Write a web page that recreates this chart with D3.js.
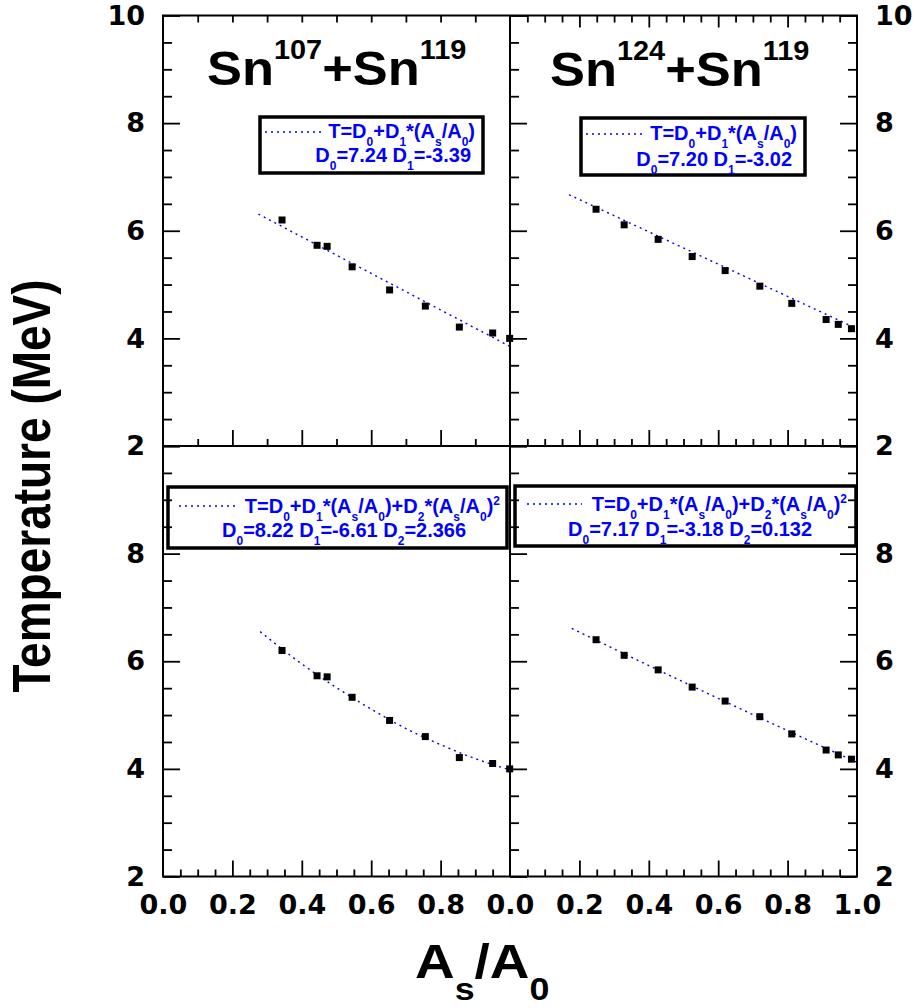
<!DOCTYPE html>
<html><head><meta charset="utf-8">
<script src="https://cdn.jsdelivr.net/npm/d3@7"></script>
<style>body{margin:0;background:#fff} svg{display:block}</style>
</head><body>
<script>
// ---------- data ----------
const xs107 = [0.343, 0.444, 0.473, 0.545, 0.653, 0.756, 0.854, 0.950, 0.999];
const T107  = [6.20, 5.73, 5.71, 5.33, 4.90, 4.60, 4.21, 4.10, 4.00];
const xs124 = [0.248, 0.329, 0.427, 0.525, 0.620, 0.720, 0.812, 0.911, 0.946, 0.984];
const T124  = [6.40, 6.11, 5.84, 5.52, 5.26, 4.97, 4.65, 4.35, 4.26, 4.18];

// fit curves
const linFit107X  = [0.275, 1.0];
const linFit107T  = [6.31, 3.85];
const linFit124X  = [0.17, 1.0];
const linFit124T  = [6.67, 4.18];
const quadFit107X = [0.28, 0.4, 0.5, 0.6, 0.7, 0.8, 0.9, 1.0];
const quadFit107T = [6.55, 5.95, 5.51, 5.11, 4.75, 4.45, 4.19, 3.98];
const quadFit124X = [0.178, 0.4, 0.6, 0.8, 1.0];
const quadFit124T = [6.61, 5.92, 5.31, 4.71, 4.12];

const yTicksTop    = [2, 4, 6, 8, 10];
const yTicksBottom = [2, 4, 6, 8];
const xTicksLeft   = [0.0, 0.2, 0.4, 0.6, 0.8];
const xTicksRight  = [0.0, 0.2, 0.4, 0.6, 0.8, 1.0];

const title107 = [["Sn",""],["107","sup"],["+Sn",""],["119","sup"]];
const title124 = [["Sn",""],["124","sup"],["+Sn",""],["119","sup"]];
const linEq  = [["T=D",""],["0","sub"],["+D",""],["1","sub"],["*(A",""],["s","sub"],["/A",""],["0","sub"],[")",""]];
const quadEq = [["T=D",""],["0","sub"],["+D",""],["1","sub"],["*(A",""],["s","sub"],["/A",""],["0","sub"],[")+D",""],["2","sub"],["*(A",""],["s","sub"],["/A",""],["0","sub"],[")",""],["2","sup"]];
const coef107lin  = [["D",""],["0","sub"],["=7.24 D",""],["1","sub"],["=-3.39",""]];
const coef124lin  = [["D",""],["0","sub"],["=7.20 D",""],["1","sub"],["=-3.02",""]];
const coef107quad = [["D",""],["0","sub"],["=8.22 D",""],["1","sub"],["=-6.61 D",""],["2","sub"],["=2.366",""]];
const coef124quad = [["D",""],["0","sub"],["=7.17 D",""],["1","sub"],["=-3.18 D",""],["2","sub"],["=0.132",""]];

// ---------- layout ----------
const W = 917, H = 1008;
const L = 163, M = 510, R = 857, TOP = 15.5, MIDY = 446, BOT = 876.5;
const BLUE = "#0000ff";
const svg = d3.select("body").append("svg").attr("width", W).attr("height", H);

function rich(parent, x, y, anchor, parts, size, subSize, shift, family) {
  const t = parent.append("text").attr("x", x).attr("y", y)
    .attr("text-anchor", anchor).attr("font-family", family)
    .attr("font-weight", "bold").attr("font-size", size);
  let cur = 0;
  parts.forEach(([s, k]) => {
    const target = k === "sub" ? shift : (k === "sup" ? -shift : 0);
    t.append("tspan").attr("dy", target - cur)
      .attr("font-size", k ? subSize : size).text(s);
    cur = target;
  });
  return t;
}

const panels = [
  {x0: L, x1: M, y0: TOP, y1: MIDY, xs: xs107, ts: T107, fx: linFit107X, ft: linFit107T,
   topStep: 0.1, bottomStep: 0.1, topLong: false, leftSide: true, rightSide: false,
   legend: {rx: 260, ry: 117, rw: 223, rh: 56, lx0: 265, lx1: 322, ly: 132,
            l1: linEq, l1x: 475, l1y: 138, l1a: "end", l2: coef107lin, l2x: 471, l2y: 162, l2a: "end"},
   title: title107, tx: 207, ty: 85},
  {x0: M, x1: R, y0: TOP, y1: MIDY, xs: xs124, ts: T124, fx: linFit124X, ft: linFit124T,
   topStep: 0.05, bottomStep: 0.05, topLong: true, leftSide: true, rightSide: true,
   legend: {rx: 581, ry: 118, rw: 224, rh: 57, lx0: 586, lx1: 643, ly: 134,
            l1: linEq, l1x: 797, l1y: 140, l1a: "end", l2: coef124lin, l2x: 792, l2y: 166, l2a: "end"},
   title: title124, tx: 550, ty: 86},
  {x0: L, x1: M, y0: MIDY, y1: BOT, xs: xs107, ts: T107, fx: quadFit107X, ft: quadFit107T,
   topStep: null, bottomStep: 0.05, topLong: false, leftSide: true, rightSide: false,
   legend: {rx: 168, ry: 487, rw: 339, rh: 61, lx0: 179, lx1: 236, ly: 506,
            l1: quadEq, l1x: 500, l1y: 513, l1a: "end", l2: coef107quad, l2x: 222, l2y: 537, l2a: "start"}},
  {x0: M, x1: R, y0: MIDY, y1: BOT, xs: xs124, ts: T124, fx: quadFit124X, ft: quadFit124T,
   topStep: null, bottomStep: 0.05, topLong: false, leftSide: true, rightSide: true,
   legend: {rx: 515, ry: 486, rw: 341, rh: 60, lx0: 527, lx1: 582, ly: 504,
            l1: quadEq, l1x: 847, l1y: 511, l1a: "end", l2: coef124quad, l2x: 568, l2y: 536, l2a: "start"}}
];

const gLegend = svg.append("g"), gData = svg.append("g"), gFrame = svg.append("g");

panels.forEach(p => {
  p.x = d3.scaleLinear().domain([0, 1]).range([p.x0, p.x1]);
  p.y = d3.scaleLinear().domain([2, 10]).range([p.y1, p.y0]);

  // legend
  const lg = p.legend;
  gLegend.append("rect").attr("x", lg.rx).attr("y", lg.ry).attr("width", lg.rw).attr("height", lg.rh)
    .attr("fill", "#fff").attr("stroke", "#000").attr("stroke-width", 3.5);
  gLegend.append("line").attr("x1", lg.lx0).attr("x2", lg.lx1).attr("y1", lg.ly).attr("y2", lg.ly)
    .attr("stroke", BLUE).attr("stroke-width", 1.4).attr("stroke-dasharray", "2,4");
  rich(gLegend, lg.l1x, lg.l1y, lg.l1a, lg.l1, 20, 12, 8, "Liberation Sans, Arial, sans-serif").attr("fill", BLUE);
  rich(gLegend, lg.l2x, lg.l2y, lg.l2a, lg.l2, 20, 12, 8, "Liberation Sans, Arial, sans-serif").attr("fill", BLUE);

  // title
  if (p.title) {
    const tg = gLegend.append("g").attr("transform", `translate(${p.tx},${p.ty}) scale(1.07,1)`);
    rich(tg, 0, 0, "start", p.title, 49, 27, 26, "Liberation Sans, Arial, sans-serif").attr("fill", "#000");
  }

  // fit curve
  const fit = p.fx.map((v, i) => [v, p.ft[i]]);
  gData.append("path").datum(fit)
    .attr("d", d3.line().x(d => p.x(d[0])).y(d => p.y(d[1])).curve(d3.curveMonotoneX))
    .attr("fill", "none").attr("stroke", BLUE).attr("stroke-width", 1.4).attr("stroke-dasharray", "2,4");
});

// frame
gFrame.append("rect").attr("x", L).attr("y", TOP).attr("width", R - L).attr("height", BOT - TOP)
  .attr("fill", "none").attr("stroke", "#000").attr("stroke-width", 2);
gFrame.append("line").attr("x1", M).attr("x2", M).attr("y1", TOP).attr("y2", BOT).attr("stroke", "#000").attr("stroke-width", 2);
gFrame.append("line").attr("x1", L).attr("x2", R).attr("y1", MIDY).attr("y2", MIDY).attr("stroke", "#000").attr("stroke-width", 2);

function tickAxis(axis, tx, ty) {
  const g = gFrame.append("g").attr("transform", `translate(${tx},${ty})`).call(axis);
  g.select(".domain").remove();
  g.selectAll("line").attr("stroke", "#000").attr("stroke-width", 1.8);
  g.selectAll("text").remove();
}
const near = (v, s) => Math.abs(v / s - Math.round(v / s)) < 1e-6;

panels.forEach(p => {
  const yMinor = d3.range(2, 10.001, 0.5).filter(v => !near(v, 2));
  const yMajor = [2, 4, 6, 8, 10];
  if (p.leftSide) {
    tickAxis(d3.axisRight(p.y).tickValues(yMinor).tickSize(9).tickFormat(""), p.x0, 0);
    tickAxis(d3.axisRight(p.y).tickValues(yMajor).tickSize(17).tickFormat(""), p.x0, 0);
  }
  if (p.rightSide) {
    tickAxis(d3.axisLeft(p.y).tickValues(yMinor).tickSize(9).tickFormat(""), p.x1, 0);
    tickAxis(d3.axisLeft(p.y).tickValues(yMajor).tickSize(17).tickFormat(""), p.x1, 0);
  }
  const xMajor = [0.2, 0.4, 0.6, 0.8];
  // bottom ticks
  const bMinor = d3.range(p.bottomStep, 0.9999, p.bottomStep).filter(v => !near(v, 0.2));
  tickAxis(d3.axisTop(p.x).tickValues(bMinor).tickSize(7).tickFormat(""), 0, p.y1);
  tickAxis(d3.axisTop(p.x).tickValues(xMajor).tickSize(16).tickFormat(""), 0, p.y1);
  // top ticks
  if (p.topStep) {
    if (p.topLong) {
      const tMinor = d3.range(p.topStep, 0.9999, p.topStep).filter(v => !near(v, 0.2));
      tickAxis(d3.axisBottom(p.x).tickValues(tMinor).tickSize(7).tickFormat(""), 0, p.y0);
      tickAxis(d3.axisBottom(p.x).tickValues(xMajor).tickSize(12).tickFormat(""), 0, p.y0);
    } else {
      const tAll = d3.range(p.topStep, 0.9999, p.topStep);
      tickAxis(d3.axisBottom(p.x).tickValues(tAll).tickSize(7).tickFormat(""), 0, p.y0);
    }
  }
});

// data markers
panels.forEach(p => {
  gData.raise();
  gFrame.raise();
});
const gMarks = svg.append("g");
panels.forEach(p => {
  gMarks.selectAll(null).data(p.xs.map((v, i) => [v, p.ts[i]])).enter().append("rect")
    .attr("x", d => p.x(d[0]) - 3.5).attr("y", d => p.y(d[1]) - 3.5)
    .attr("width", 7).attr("height", 7).attr("fill", "#000");
});

// tick labels
function labelAxis(axis, tx, ty) {
  const g = svg.append("g").attr("transform", `translate(${tx},${ty})`).call(axis);
  g.select(".domain").remove();
  g.selectAll("line").remove();
  g.selectAll("text").attr("font-family", "DejaVu Sans, sans-serif").attr("font-weight", "bold")
    .attr("font-size", 27).attr("fill", "#000");
  return g;
}
const fy = d3.format("d"), fx = d3.format(".1f");
labelAxis(d3.axisLeft(panels[0].y).tickValues(yTicksTop).tickSize(0).tickPadding(18).tickFormat(fy), L, 0);
labelAxis(d3.axisLeft(panels[2].y).tickValues(yTicksBottom).tickSize(0).tickPadding(18).tickFormat(fy), L, 0);
labelAxis(d3.axisRight(panels[1].y).tickValues(yTicksTop).tickSize(0).tickPadding(18).tickFormat(fy), R, 0);
labelAxis(d3.axisRight(panels[3].y).tickValues(yTicksBottom).tickSize(0).tickPadding(18).tickFormat(fy), R, 0);
labelAxis(d3.axisBottom(panels[2].x).tickValues(xTicksLeft).tickSize(0).tickPadding(18).tickFormat(fx), 0, BOT);
labelAxis(d3.axisBottom(panels[3].x).tickValues(xTicksRight).tickSize(0).tickPadding(18).tickFormat(fx), 0, BOT);

// axis titles
svg.append("text").attr("transform", "translate(50,486) scale(1.15,1) rotate(-90)")
  .attr("text-anchor", "middle").attr("font-family", "Liberation Sans, Arial, sans-serif")
  .attr("font-weight", "bold").attr("font-size", 46).attr("fill", "#000")
  .text("Temperature (MeV)");
const xt = svg.append("g").attr("transform", "translate(415,978) scale(1.12,1)");
rich(xt, 0, 0, "start", [["A",""],["s","sub"],["/A",""],["0","sub"]], 49, 32, 22, "Liberation Sans, Arial, sans-serif").attr("fill", "#000");
</script>
</body></html>
